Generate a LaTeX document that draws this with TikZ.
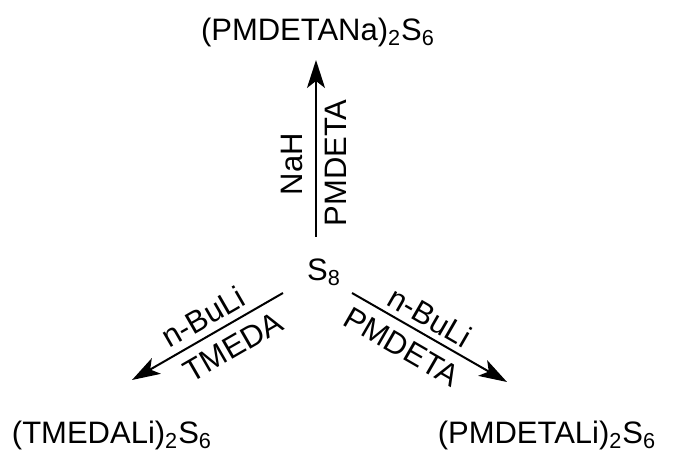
\documentclass[tikz,border=0pt]{standalone}
\usepackage{fontspec}
\setmainfont{Liberation Sans}
\usetikzlibrary{arrows.meta}
\begin{document}
\begin{tikzpicture}[x=0.5pt,y=0.5pt,
  chem/.style={font=\fontsize{15.5}{18}\selectfont, inner sep=0pt},
  cond/.style={font=\fontsize{15.5}{18}\selectfont, inner sep=0pt},
  rxn/.style={line width=1pt, -{Stealth[length=14pt,width=9pt,inset=3.5pt]}}]
\useasboundingbox (0,0) rectangle (677,450);

% species
\node[chem] (s8)  at (324,178) {S\textsubscript{8}};
\node[chem] (na)  at (318,418) {(PMDETANa)\textsubscript{2}S\textsubscript{6}};
\node[chem] (tli) at (112,15)  {(TMEDALi)\textsubscript{2}S\textsubscript{6}};
\node[chem] (pli) at (547,15)  {(PMDETALi)\textsubscript{2}S\textsubscript{6}};

% arrow ends
\coordinate (upS) at (316,213);
\coordinate (upE) at (316,390);
\coordinate (lfS) at (283,157);
\coordinate (lfE) at (132,70);
\coordinate (rtS) at (352,157);
\coordinate (rtE) at (507,68);

\draw[rxn] (upS) -- (upE);
\draw[rxn] (lfS) -- (lfE);
\draw[rxn] (rtS) -- (rtE);

% reagents
\node[cond, rotate=90] (nah) at (292,286) {NaH};
\node[cond, rotate=90] (pm1) at (336,287) {PMDETA};
\node[cond, rotate=30] (bu1) at (203,133) {n-BuLi};
\node[cond, rotate=30] (tm)  at (233,103) {TMEDA};
\node[cond, rotate=-30] (bu2) at (430,133) {n-BuLi};
\node[cond, rotate=-30] (pm2) at (402,103) {PMDETA};
\end{tikzpicture}
\end{document}
